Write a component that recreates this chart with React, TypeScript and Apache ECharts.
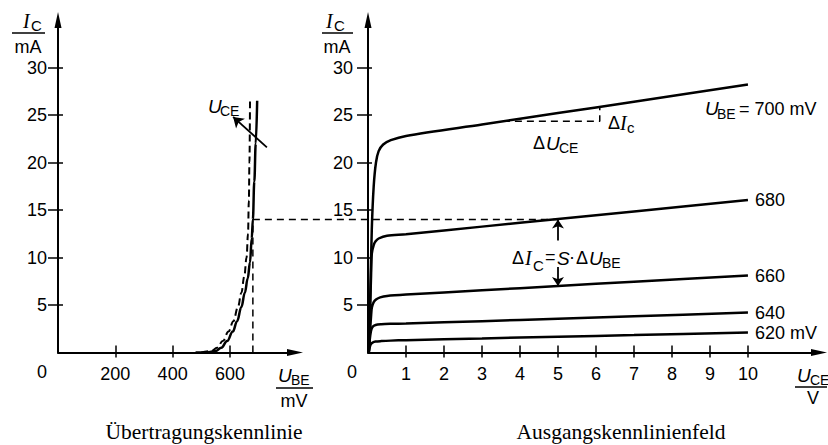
import React, { useEffect, useRef } from "react";
import * as echarts from "echarts";

// ---------- data ----------
// Transfer characteristic (left): U_BE in mV, I_C in mA
const transferUbeSolid = [480, 520, 550, 570, 590, 610, 625, 640, 652, 662, 670, 676, 680, 685, 690, 695];
const transferIcSolid = [0, 0, 0.15, 0.5, 1.2, 2.2, 3.3, 4.8, 6.3, 7.8, 9.5, 12, 14, 18, 22, 26.5];
const transferUbeDashed = [500, 535, 555, 575, 595, 612, 628, 640, 650, 658, 663, 666, 668, 670];
const transferIcDashed = [0, 0.15, 0.5, 1.2, 2.2, 3.3, 4.8, 6.3, 8, 10, 12.5, 16, 20, 26.5];

// Output characteristics (right): U_CE in V, I_C in mA
const uce700 = [0.02, 0.06, 0.1, 0.15, 0.21, 0.28, 0.4, 0.6, 1, 3, 5, 7, 10];
const ic700 = [0, 6, 13, 17.5, 20, 21.2, 21.9, 22.35, 22.8, 24.0, 25.2, 26.4, 28.2];
const uce680 = [0.02, 0.05, 0.08, 0.1, 0.15, 0.2, 0.28, 0.5, 1, 3, 5, 7, 10];
const ic680 = [0, 4, 8, 10.4, 11.3, 11.7, 12.0, 12.3, 12.45, 13.25, 14.05, 14.85, 16.05];
const uce660 = [0.02, 0.05, 0.08, 0.1, 0.15, 0.22, 0.32, 0.5, 1, 3, 5, 7, 10];
const ic660 = [0, 2, 3.8, 4.7, 5.3, 5.6, 5.8, 5.95, 6.1, 6.55, 7.0, 7.45, 8.1];
const uce640 = [0.02, 0.05, 0.08, 0.12, 0.2, 0.35, 0.6, 1, 3, 5, 7, 10];
const ic640 = [0, 1.5, 2.3, 2.7, 2.9, 2.98, 3.02, 3.05, 3.3, 3.56, 3.82, 4.2];
const uce620 = [0.02, 0.05, 0.08, 0.12, 0.2, 0.35, 0.6, 1, 3, 5, 7, 10];
const ic620 = [0, 0.6, 0.9, 1.05, 1.15, 1.2, 1.25, 1.3, 1.48, 1.66, 1.83, 2.1];

const curveLabels = ["", "680", "660", "640", "620 mV"];

const xTicksLeft = [200, 400, 600];
const xTicksRight = [1, 2, 3, 4, 5, 6, 7, 8, 9, 10];
const yTicks = [5, 10, 15, 20, 25, 30];

// operating point / annotations (data units)
const workUbe = 680;
const workIc = 14;
const workUce = 5;
const ic660AtWork = 7.0;
const uceArrow = [[729, 21.6], [611, 24.8]];
const deltaUceBracket = [[3.55, 24.33], [6.1, 24.33], [6.1, 25.86]];
const arrowUpFrom = 11.8;
const arrowDownFrom = 9.8;

// ---------- helpers ----------
const SANS = "'Liberation Sans', Arial, sans-serif";
const SERIF = "'Liberation Serif', 'Times New Roman', serif";
const zip = (xs: number[], ys: number[]) => xs.map((x, i) => [x, ys[i]]);

const txt = (x: number, y: number, text: string, o: any = {}) => ({
  type: "text",
  x,
  y,
  z: 20,
  style: {
    text,
    fill: "#000",
    fontFamily: SANS,
    fontSize: 18,
    align: o.align || "left",
    textAlign: o.align || "left",
    verticalAlign: "middle",
    textVerticalAlign: "middle",
    ...o,
  },
});
const hline = (x1: number, x2: number, y: number, w = 1.5, dash?: number[]) => ({
  type: "line",
  z: 20,
  shape: { x1, y1: y, x2, y2: y },
  style: { stroke: "#000", lineWidth: w, lineDash: dash },
});

const axisCommon = {
  splitLine: { show: false },
  axisLine: { onZero: false },
};

const makeX = (grid: number, max: number, ticks: number[], outer: boolean) => ({
  type: "value",
  gridIndex: grid,
  min: 0,
  max,
  position: "bottom",
  ...axisCommon,
  axisLine: outer
    ? { show: true, onZero: false, symbol: ["none", "triangle"], symbolSize: [7, 16], lineStyle: { color: "#000", width: 2 } }
    : { show: false, onZero: false },
  axisTick: {
    show: true,
    inside: !outer,
    length: outer ? 5 : 7,
    customValues: ticks,
    lineStyle: { color: "#000", width: 1.5 },
  },
  axisLabel: outer
    ? { show: true, customValues: ticks, margin: 12, color: "#000", fontSize: 18, fontFamily: SANS }
    : { show: false },
});

const makeY = (grid: number, ticks: number[], outer: boolean, outLen: number, inLen: number, margin: number) => ({
  type: "value",
  gridIndex: grid,
  min: 0,
  max: 35,
  position: "left",
  ...axisCommon,
  axisLine: outer
    ? { show: true, onZero: false, symbol: ["none", "triangle"], symbolSize: [7, 16], lineStyle: { color: "#000", width: 2 } }
    : { show: false, onZero: false },
  axisTick: {
    show: true,
    inside: !outer,
    length: outer ? outLen : inLen,
    customValues: ticks,
    lineStyle: { color: "#000", width: 1.5 },
  },
  axisLabel: outer
    ? { show: true, customValues: ticks, margin, color: "#000", fontSize: 18, fontFamily: SANS }
    : { show: false },
});

const curveLine = (data: number[][], xi: number, extra: any = {}) => ({
  type: "line",
  xAxisIndex: xi,
  yAxisIndex: xi,
  data,
  smooth: 0.4,
  smoothMonotone: "x",
  showSymbol: false,
  symbol: "none",
  silent: true,
  lineStyle: { color: "#000", width: 2.5 },
  ...extra,
});

export default function App() {
  const ref = useRef<HTMLDivElement>(null);

  useEffect(() => {
    document.body.style.margin = "0";
    const chart = echarts.init(ref.current!, null, { renderer: "svg" });

    const outputSets = [
      zip(uce700, ic700),
      zip(uce680, ic680),
      zip(uce660, ic660),
      zip(uce640, ic640),
      zip(uce620, ic620),
    ];

    const option: any = {
      animation: false,
      backgroundColor: "#fff",
      grid: [
        { left: 58, top: 20, width: 237, height: 332.5 },
        { left: 368, top: 20, width: 451, height: 332.5 },
      ],
      xAxis: [
        makeX(0, 827, xTicksLeft, true),
        makeX(1, 11.87, xTicksRight, true),
        makeX(0, 827, xTicksLeft, false),
        makeX(1, 11.87, xTicksRight, false),
      ],
      yAxis: [
        makeY(0, yTicks, true, 10, 5, 11),
        makeY(1, yTicks, true, 11, 4, 15),
        makeY(0, yTicks, false, 10, 5, 11),
        makeY(1, yTicks, false, 11, 4, 15),
      ],
      series: [
        curveLine(zip(transferUbeSolid, transferIcSolid), 0),
        curveLine(zip(transferUbeDashed, transferIcDashed), 0, {
          lineStyle: { color: "#000", width: 2, type: [7, 4] },
        }),
        curveLine(
          [
            [workUbe, 0],
            [workUbe, workIc],
          ],
          0,
          { smooth: false, lineStyle: { color: "#000", width: 1.5, type: [7, 5] } }
        ),
        ...outputSets.map((d, i) =>
          curveLine(d, 1, {
            smooth: 0.3,
            smoothMonotone: undefined,
            endLabel: curveLabels[i]
              ? {
                  show: true,
                  formatter: curveLabels[i],
                  distance: 7,
                  color: "#000",
                  fontSize: 18,
                  fontFamily: SANS,
                }
              : { show: false },
          })
        ),
        curveLine(deltaUceBracket, 1, {
          smooth: false,
          lineStyle: { color: "#000", width: 1.5, type: [7, 5] },
        }),
        {
          type: "lines",
          coordinateSystem: "cartesian2d",
          xAxisIndex: 0,
          yAxisIndex: 0,
          symbol: ["none", "arrow"],
          symbolSize: [0, 10],
          silent: true,
          lineStyle: { color: "#000", width: 1.8, opacity: 1 },
          data: [{ coords: uceArrow }],
        },
        {
          type: "lines",
          coordinateSystem: "cartesian2d",
          xAxisIndex: 1,
          yAxisIndex: 1,
          symbol: ["none", "arrow"],
          symbolSize: [0, 9],
          silent: true,
          lineStyle: { color: "#000", width: 1.8, opacity: 1 },
          data: [
            { coords: [[workUce, arrowUpFrom], [workUce, workIc]] },
            { coords: [[workUce, arrowDownFrom], [workUce, ic660AtWork]] },
          ],
        },
      ],
    };
    chart.setOption(option);

    const a = chart.convertToPixel({ gridIndex: 0 } as any, [workUbe, workIc]) as number[];
    const b = chart.convertToPixel({ gridIndex: 1 } as any, [workUce, workIc]) as number[];

    const serifI = { fontFamily: SERIF, fontStyle: "italic", fontSize: 20 };
    const itU = { fontStyle: "italic", fontSize: 19 };
    const subS = { fontSize: 14 };

    const graphic: any[] = [
      // connecting dashed line
      {
        type: "line",
        z: 5,
        shape: { x1: a[0], y1: a[1], x2: b[0], y2: b[1] },
        style: { stroke: "#000", lineWidth: 1.5, lineDash: [7, 5] },
      },
      // left y label
      txt(23, 21, "I", serifI),
      txt(31, 25, "C", { fontSize: 15 }),
      hline(12, 45, 33),
      txt(28, 47, "mA", { align: "center", textAlign: "center" }),
      // right y label
      txt(326, 21, "I", serifI),
      txt(334, 25, "C", { fontSize: 15 }),
      hline(322, 353, 33),
      txt(337, 47, "mA", { align: "center", textAlign: "center" }),
      // left x label
      txt(278, 375, "U", itU),
      txt(291, 380, "BE", subS),
      hline(276, 313, 388),
      txt(294, 401, "mV", { align: "center", textAlign: "center" }),
      // right x label
      txt(797, 375, "U", itU),
      txt(810, 380, "CE", subS),
      hline(795, 827, 387),
      txt(813, 398, "V", { align: "center", textAlign: "center" }),
      // zeros
      txt(42, 372, "0", { align: "center", textAlign: "center" }),
      txt(352, 372, "0", { align: "center", textAlign: "center" }),
      // U_CE arrow label
      txt(208, 106, "U", itU),
      txt(220, 111, "CE", subS),
      // 700 label
      txt(705, 108, "U", itU),
      txt(717, 114, "BE", subS),
      txt(739, 109, "= 700 mV"),
      // ΔIc
      txt(608, 123, "Δ"),
      txt(620, 123, "I", serifI),
      txt(627, 127, "c", { fontSize: 15 }),
      // ΔUCE
      txt(533, 143, "Δ"),
      txt(546, 143, "U", itU),
      txt(559, 148, "CE", subS),
      // ΔIC = S·ΔUBE
      { type: "rect", z: 15, shape: { x: 545, y: 247, width: 22, height: 20 }, style: { fill: "#fff" } },
      txt(512, 258, "Δ"),
      txt(525, 258, "I", serifI),
      txt(533, 265, "C", { fontSize: 15 }),
      txt(545, 257, "="),
      txt(557, 258, "S", itU),
      txt(569, 257, "·"),
      txt(576, 258, "Δ"),
      txt(589, 258, "U", itU),
      txt(602, 263, "BE", subS),
      // titles
      txt(204, 432, "Übertragungskennlinie", { fontFamily: SERIF, fontSize: 21.5, align: "center", textAlign: "center" }),
      txt(621, 432, "Ausgangskennlinienfeld", { fontFamily: SERIF, fontSize: 21.5, align: "center", textAlign: "center" }),
    ];
    chart.setOption({ graphic });

    return () => chart.dispose();
  }, []);

  return <div ref={ref} style={{ width: 828, height: 445 }} />;
}
